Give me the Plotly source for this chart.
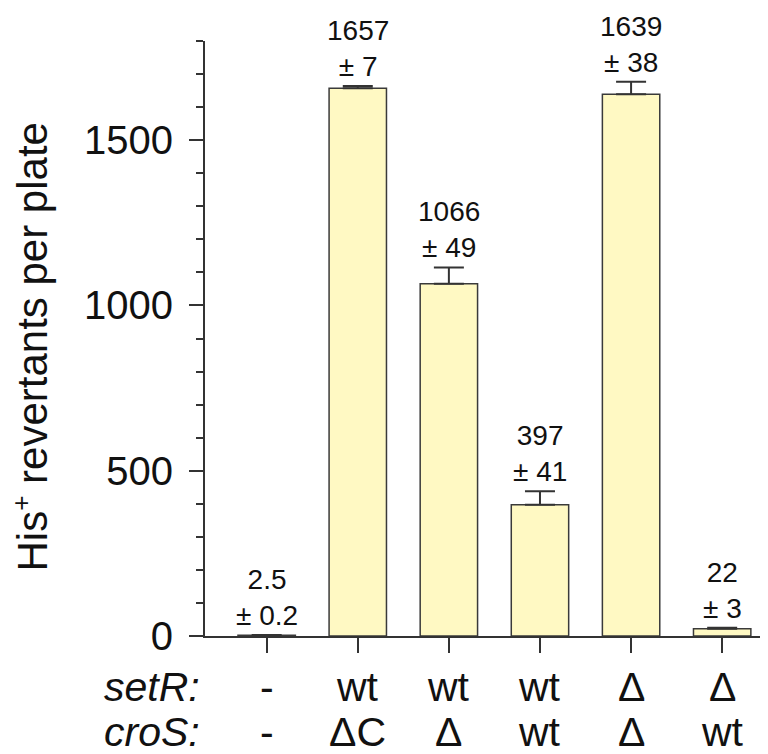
import plotly.graph_objects as go

categories = [0, 1, 2, 3, 4, 5]
setR_labels = ["-", "wt", "wt", "wt", "Δ", "Δ"]
croS_labels = ["-", "ΔC", "Δ", "wt", "Δ", "wt"]
means = [2.5, 1657, 1066, 397, 1639, 22]
errors = [0.2, 7, 49, 41, 38, 3]
mean_text = ["2.5", "1657", "1066", "397", "1639", "22"]
err_text = ["0.2", "7", "49", "41", "38", "3"]
y_ticks = [0, 500, 1000, 1500]
y_title = "His<sup><span style='font-size:26px'>+</span></sup> revertants per plate"

FONT = "Liberation Sans, Arial, Helvetica, sans-serif"
AX = "#333333"
OFF = 8  # page body margin offset

fig = go.Figure()
fig.add_trace(go.Bar(
    x=categories, y=means, width=0.63,
    marker=dict(color="#FFF9C3", line=dict(color="#3a3a3a", width=1.5)),
    error_y=dict(type="data", array=errors, arrayminus=[0] * len(errors),
                 symmetric=False, color=AX, thickness=2, width=15),
    showlegend=False, hoverinfo="skip",
))

ann = []
for i, c in enumerate(categories):
    ann.append(dict(x=c, y=means[i] + errors[i], xref="x", yref="y",
                    text=f"{mean_text[i]}<br>± {err_text[i]}", showarrow=False,
                    yanchor="bottom", yshift=2,
                    font=dict(family=FONT, size=28, color="#111")))
    ann.append(dict(x=c, y=0, xref="x", yref="y", text=setR_labels[i],
                    showarrow=False, yanchor="middle", yshift=-51,
                    font=dict(family=FONT, size=41, color="#111")))
    ann.append(dict(x=c, y=0, xref="x", yref="y", text=croS_labels[i],
                    showarrow=False, yanchor="middle", yshift=-96,
                    font=dict(family=FONT, size=41, color="#111")))
for lab, ys in [("setR:", -51), ("croS:", -96)]:
    ann.append(dict(x=-0.006, y=0, xref="paper", yref="y", text=f"<i>{lab}</i>",
                    showarrow=False, xanchor="right", yanchor="middle", yshift=ys,
                    font=dict(family=FONT, size=41, color="#111")))
ann.append(dict(x=-0.309, y=0.485, xref="paper", yref="paper", text=y_title,
                textangle=-90, showarrow=False, xanchor="center", yanchor="middle",
                font=dict(family=FONT, size=42, color="#111")))

fig.update_layout(
    width=768 - OFF, height=754 - OFF,
    margin=dict(l=205 - OFF, r=0, t=41 - OFF, b=118),
    paper_bgcolor="white", plot_bgcolor="white",
    annotations=ann,
    xaxis=dict(range=[-0.677, 5.503], tickvals=categories, showticklabels=False,
               ticks="outside", ticklen=15, tickwidth=2, tickcolor=AX,
               showline=True, linecolor=AX, linewidth=2, showgrid=False,
               zeroline=False, fixedrange=True),
    yaxis=dict(range=[0, 1800], tickvals=y_ticks, ticks="outside", ticklen=14,
               tickwidth=2, tickcolor=AX, showline=True, linecolor=AX, linewidth=2,
               showgrid=False, zeroline=False, ticklabelstandoff=8,
               tickfont=dict(family=FONT, size=40, color="#111"),
               minor=dict(dtick=100, ticks="outside", ticklen=7, tickwidth=2,
                          tickcolor=AX, showgrid=False)),
)

fig.write_html("out.html")
